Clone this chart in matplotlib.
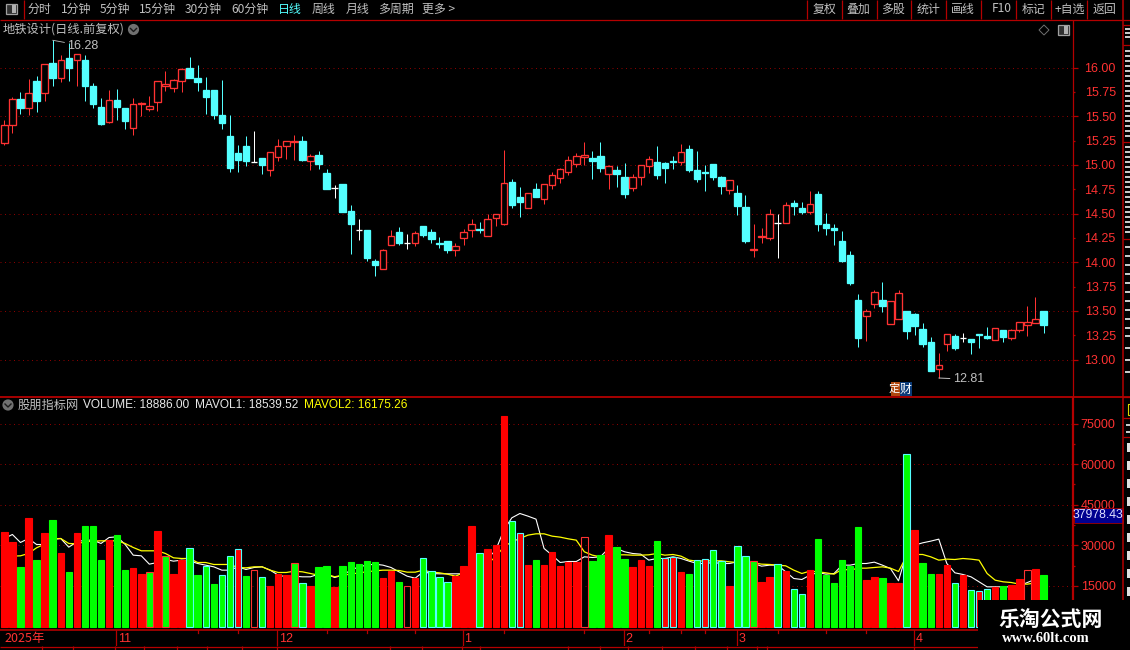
import matplotlib
matplotlib.use('Agg')
import matplotlib.pyplot as plt
from matplotlib.patches import Rectangle, Circle, Polygon
import numpy as np

CJK = ['Noto Sans CJK SC', 'DejaVu Sans']
LAT = ['Liberation Sans', 'DejaVu Sans']
plt.rcParams['font.family'] = CJK

# ---------- data ----------
open_ = [15.22,15.41,15.68,15.58,15.86,15.74,16.05,15.89,16.10,16.08,16.08,15.81,15.59,15.44,15.67,15.58,15.38,15.63,15.57,15.65,
         15.81,15.79,15.86,15.99,15.89,15.77,15.77,15.51,15.30,15.12,15.19,15.03,15.07,14.95,15.08,15.19,15.23,15.24,15.04,15.10,
         14.92,14.76,14.80,14.53,14.33,14.33,14.01,13.93,14.18,14.31,14.20,14.20,14.37,14.31,14.20,14.22,14.12,14.25,14.33,14.34,
         14.27,14.45,14.39,14.82,14.67,14.56,14.75,14.65,14.79,14.86,14.93,15.01,15.08,15.07,15.09,14.91,14.95,14.88,14.76,14.87,
         14.99,15.03,15.02,15.04,15.03,15.16,14.95,14.93,15.01,14.87,14.74,14.71,14.57,14.12,14.26,14.25,14.40,14.40,14.61,14.56,
         14.52,14.70,14.39,14.35,14.22,14.07,13.61,13.45,13.57,13.61,13.36,13.42,13.50,13.47,13.31,13.18,12.90,13.16,13.24,13.22,
         13.21,13.26,13.24,13.20,13.30,13.22,13.30,13.35,13.37,13.50]
high = [15.46,15.70,15.75,15.88,15.91,16.04,16.28,16.13,16.25,16.14,16.13,15.84,15.69,15.77,15.78,15.58,15.69,15.65,15.71,15.86,
        15.96,15.88,16.00,16.11,16.03,15.90,15.77,15.87,15.51,15.20,15.30,15.35,15.07,15.13,15.27,15.25,15.31,15.30,15.11,15.14,
        14.96,14.79,14.80,14.59,14.44,14.33,14.03,14.14,14.33,14.36,14.29,14.32,14.37,14.34,14.26,14.22,14.20,14.34,14.44,14.41,
        14.49,14.50,15.15,14.85,14.77,14.71,14.81,14.80,14.93,14.97,15.09,15.12,15.23,15.14,15.23,15.00,14.99,15.02,14.91,15.00,
        15.09,15.19,15.03,15.09,15.21,15.20,15.14,15.00,15.01,14.89,14.84,14.79,14.69,14.39,14.35,14.55,14.50,14.62,14.64,14.62,
        14.73,14.73,14.51,14.39,14.32,14.11,13.67,13.52,13.71,13.80,13.60,13.71,13.50,13.48,13.37,13.23,13.07,13.26,13.26,13.27,
        13.21,13.26,13.33,13.32,13.30,13.31,13.39,13.55,13.64,13.50]
low = [15.20,15.33,15.52,15.51,15.54,15.66,15.81,15.85,15.86,15.81,15.66,15.58,15.41,15.43,15.46,15.37,15.31,15.50,15.55,15.55,
       15.76,15.75,15.75,15.89,15.76,15.52,15.47,15.37,14.93,14.93,14.99,15.03,14.91,14.89,15.04,15.06,15.05,15.04,14.95,14.96,
       14.75,14.66,14.52,14.08,14.23,14.01,13.86,13.93,14.18,14.18,14.14,14.17,14.26,14.20,14.15,14.09,14.06,14.18,14.26,14.30,
       14.27,14.37,14.38,14.56,14.46,14.56,14.67,14.60,14.75,14.81,14.90,14.98,15.00,14.85,14.93,14.75,14.77,14.66,14.73,14.79,
       14.92,14.85,14.81,14.96,15.00,14.93,14.82,14.73,14.84,14.70,14.70,14.48,14.20,14.05,14.20,14.23,14.04,14.40,14.48,14.49,
       14.50,14.32,14.28,14.18,14.00,13.77,13.13,13.19,13.53,13.49,13.36,13.42,13.21,13.25,13.13,12.88,12.81,13.09,13.10,13.18,
       13.06,13.12,13.21,13.20,13.18,13.20,13.28,13.24,13.37,13.27]
close = [15.41,15.68,15.58,15.74,15.66,16.04,15.89,16.08,15.99,16.14,15.81,15.63,15.42,15.67,15.59,15.45,15.62,15.64,15.60,15.86,
         15.83,15.87,15.98,15.89,15.85,15.70,15.51,15.43,14.97,15.05,15.04,15.03,15.00,15.13,15.19,15.25,15.24,15.05,15.09,15.01,
         14.75,14.76,14.52,14.39,14.33,14.04,13.97,14.12,14.27,14.20,14.20,14.30,14.28,14.24,14.19,14.12,14.17,14.31,14.39,14.33,
         14.44,14.50,14.81,14.59,14.62,14.71,14.67,14.80,14.90,14.96,15.05,15.09,15.10,15.04,14.97,14.99,14.91,14.70,14.88,15.00,
         15.06,14.90,14.97,15.03,15.13,14.95,14.85,14.92,14.87,14.78,14.84,14.58,14.22,14.14,14.27,14.50,14.40,14.59,14.58,14.52,
         14.60,14.39,14.35,14.33,14.01,13.79,13.22,13.50,13.69,13.55,13.60,13.68,13.29,13.34,13.16,12.88,12.94,13.26,13.12,13.22,
         13.18,13.25,13.22,13.32,13.23,13.30,13.39,13.39,13.42,13.35]

volume = [34870,31170,21930,40040,24520,34500,39300,27100,20080,34500,37080,37080,24520,31910,33760,20820,21560,19340,20080,35240,
          26000,19340,24520,28950,18970,22300,15650,18970,26000,28580,18600,20700,18230,14900,19340,18970,23400,16020,14900,21930,
          22300,14540,22300,23780,23040,24150,23780,17860,20450,16390,15150,17860,25260,20450,18230,16390,18600,22300,37080,27100,
          28580,30060,77740,38930,34500,22670,24520,22670,27470,22300,23780,23780,33020,24150,26360,33760,29320,24890,21930,24520,
          22300,31540,25260,25630,20080,19340,24520,24890,28210,24150,14900,29690,26000,24150,16390,18230,23040,20450,13800,11950,
          20820,32280,18970,16020,24520,22300,36710,17120,18230,17860,16020,16020,63690,35600,23400,19340,19340,22670,16020,18970,
          13430,13060,13800,14540,14900,15280,17490,20820,21190,18886]
# r = red bar, g = green bar, o = hollow red bar (ten per row)
vol_colours = list('rrgrgrgrgr' 'gggrggrrgr' 'grrggggggr' 'gogrrrggrg'
                   'grgggggrrg' 'orggggrrrg' 'rrrgrrgrrr' 'rrOggrggrr'.replace('O', 'o') +
                   'rgrrrggrgg' 'rgggrrgrgg' 'rggggggrrg' 'rrgrggrrgr' 'grgrgrrorg')

cyan_edge_bars = [23,25,27,28,29,32,37,52,53,54,55,59,63,64,82,83,86,87,88,89,91,92,96,98,99,112,118,120,121,122]
red_edge_bars = [18,20,36,93]

mavol1 = [32520,34000,31050,32520,30310,30310,32160,32520,29320,31290,31910,31910,30680,32890,33140,30310,26360,26120,23040,23650,
          24760,24150,24520,24270,23280,22670,22050,20820,20820,22050,21070,21810,22050,20820,18970,18360,18600,18360,18360,19340,
          19340,18110,18970,20820,22050,22670,23040,22670,21810,20200,18600,17860,20200,19590,19470,19470,19470,19470,22050,23280,
          25130,28210,35600,40160,41760,40780,39670,28830,26360,23650,24020,24020,25750,25500,25750,28830,28830,27600,26980,26730,
          24520,25130,25130,25750,25130,24150,23280,23280,23650,23280,23280,23900,23900,23280,22300,22670,22670,20200,17740,17370,
          18970,19960,19340,19590,22670,22670,23280,23280,23780,22670,21440,16880,26980,30060,30920,31540,32280,23280,19840,19220,
          18360,16510,14660,14660,14660,14660,15030,16260,17490,18540]
mavol2 = [26120,26000,26120,26980,29080,30430,32400,32520,30680,30550,31290,31540,31660,31660,31660,30680,29200,27970,27970,27970,
          26980,25380,25130,25130,23650,23650,22920,22920,22920,21810,21680,22050,22050,20820,19960,19960,20450,20200,19590,18970,
          19340,18360,18970,19340,19840,20200,20570,20820,20820,20700,20080,20080,20820,20080,19840,19340,18600,19840,20820,22050,
          23280,25750,29440,31290,32520,33760,34250,34250,33390,33020,32400,31910,27600,26360,25750,26730,26490,26490,26360,26360,
          26490,26980,26360,26610,26000,24520,24150,24270,24270,24270,23900,23650,23780,23530,23040,22920,22670,22420,20820,19590,
          20450,20200,19840,19340,21190,20820,21560,21560,21810,22050,21560,20330,26000,26610,26610,25750,24520,24890,24760,25130,
          24890,24520,19590,17120,16510,16260,15650,15650,16140,16175]

price_major = [13.0,13.5,14.0,14.5,15.0,15.5,16.0]
price_minor = [13.25,13.75,14.25,14.75,15.25,15.75]
vol_major = [15000,30000,45000,60000,75000]
vol_minor = [22500,37500,52500,67500]

month_starts = [14,34,57,77,91,113]
month_labels = ['11','12','1','2','3','4']
week_marks = [24,29,40,45,51,62,72,80,84,87,96,102,107]

left_tools = ['分时','1分钟','5分钟','15分钟','30分钟','60分钟','日线','周线','月线','多周期','更多 >']
right_tools = ['复权','叠加','多股','统计','画线','F10','标记','+自选','返回']

# ---------- colours ----------
RED = '#ff3232'; CYAN = '#54ffff'; WHITE = '#ffffff'; FRAME = '#b40000'; GRID = '#8c0000'
TXT = '#c0c0c0'

W, H = 1130, 650
fig = plt.figure(figsize=(W/100, H/100), dpi=100, facecolor='black')

def axes_px(x0, y0, x1, y1, **kw):
    return fig.add_axes([x0/W, 1-y1/H, (x1-x0)/W, (y1-y0)/H], facecolor='black', **kw)

XL = (-0.538, 132.6)
idx = np.arange(len(open_))
op, hi, lo, cl = map(np.array, (open_, high, low, close))

# ---------- price panel ----------
ax = axes_px(0, 20, 1072.5, 396.5)
ax.set_xlim(*XL)
ax.set_ylim(12.62, 16.488)
for g in price_major:
    ax.axhline(g, color=GRID, lw=0.72, ls=(0, (1, 3.5)), zorder=1)
col = np.where(cl > op, RED, np.where(cl < op, CYAN, WHITE))
ax.vlines(idx, lo, hi, colors=list(col), lw=0.72, zorder=2)
ax.bar(idx, np.abs(cl-op), bottom=np.minimum(op, cl), width=0.8,
       facecolor=['black' if c > o else k for c, o, k in zip(cl, op, col)],
       edgecolor=list(col), linewidth=0.95, zorder=3)
ax.set_xticks([])
ax.yaxis.tick_right()
ax.set_yticks(price_major, [f'{v:.2f}' for v in price_major])
ax.set_yticks(price_minor, [f'{v:.2f}' for v in price_minor], minor=True)
ax.tick_params(axis='y', which='major', length=3.6, width=0.9, color=FRAME, pad=27.5, labelcolor=RED, labelsize=9)
ax.tick_params(axis='y', which='minor', length=1.6, width=0.9, color=FRAME, pad=29.5, labelcolor=RED, labelsize=9, labelright=True)
for t in ax.get_yticklabels(which='both'):
    t.set_ha('right'); t.set_fontfamily(LAT)
for s in ax.spines.values():
    s.set_visible(False)
imax, imin = int(np.argmax(hi)), int(np.argmin(lo))
ax.annotate(f'{hi[imax]:.2f}', xy=(imax, hi[imax]), xytext=(10.5, -4), textcoords='offset points',
            color=TXT, fontsize=9, family=LAT, va='center',
            arrowprops=dict(arrowstyle='-', color=TXT, lw=0.6, shrinkA=0, shrinkB=0))
ax.annotate(f'{lo[imin]:.2f}', xy=(imin, lo[imin]), xytext=(10, -1), textcoords='offset points',
            color=TXT, fontsize=9, family=LAT, va='center',
            arrowprops=dict(arrowstyle='-', color=TXT, lw=0.7, shrinkA=0, shrinkB=0))

# ---------- volume panel ----------
vx = axes_px(0, 397, 1072.5, 630)
vx.set_xlim(*XL)
vx.set_ylim(-1290, 84800)
for g in vol_major:
    vx.axhline(g, color=GRID, lw=0.72, ls=(0, (1, 3.5)), zorder=1)
vx.plot(idx, mavol1, color=WHITE, lw=0.8, zorder=2)
vx.plot(idx, mavol2, color='#ffff00', lw=0.9, zorder=2)
face, edge = [], []
for i, c in enumerate(vol_colours):
    fill = {'r': '#ff0000', 'g': '#00ff00', 'o': 'none'}[c]
    face.append(fill)
    if c == 'o' or i in red_edge_bars:
        edge.append(RED)
    elif i in cyan_edge_bars:
        edge.append(CYAN)
    else:
        edge.append(fill)
vx.bar(idx, volume, width=0.8, facecolor=face, edgecolor=edge, linewidth=0.8, zorder=3)
vx.set_xticks([])
vx.yaxis.tick_right()
vx.set_yticks(vol_major, [str(v) for v in vol_major])
vx.set_yticks(vol_minor, minor=True)
vx.tick_params(axis='y', which='major', length=3.6, width=0.9, color=FRAME, pad=27.5, labelcolor=RED, labelsize=9)
vx.tick_params(axis='y', which='minor', length=1.6, width=0.9, color=FRAME)
for t in vx.get_yticklabels():
    t.set_ha('right'); t.set_fontfamily(LAT)
for s in vx.spines.values():
    s.set_visible(False)

# ---------- date strip ----------
dx = axes_px(0, 630, 1072.5, 646)
dx.set_xlim(*XL); dx.set_ylim(1, 0); dx.axis('off')
for m, lab in zip(month_starts, month_labels):
    dx.plot([m-0.1, m-0.1], [0, 1], color=FRAME, lw=0.9)
    dx.text(m+0.1, 0.55, lab, color=RED, fontsize=9, family=LAT, va='center', ha='left')
dx.text(0.0, 0.55, '2025年', color=RED, fontsize=9, va='center', ha='left')
for m in week_marks:
    dx.plot([m, m], [0, 0.2], color=FRAME, lw=0.9)

# ---------- chrome overlay ----------
ov = fig.add_axes([0, 0, 1, 1], zorder=10)
ov.set_xlim(0, W); ov.set_ylim(H, 0); ov.axis('off'); ov.patch.set_alpha(0)
def hl(y, x0=0, x1=W, lw=0.9):
    ov.plot([x0, x1], [y, y], color=FRAME, lw=lw, solid_capstyle='butt')
def vl(x, y0, y1, lw=0.9):
    ov.plot([x, x], [y0, y1], color=FRAME, lw=lw, solid_capstyle='butt')
hl(19.5); hl(396.8, lw=1.3); hl(630, 0, 1123, lw=1.2); hl(646.5, 0, 978)
vl(1072.8, 20, 397); vl(1072.8, 397, 630, lw=1.6)
vl(1123.3, 0, 630, lw=1.1); vl(23.5, 0, 19)
for y in [25, 45, 142, 239, 397, 418, 437]:
    hl(y, 1123, 1130)
for x in [42, 73, 115, 144, 177, 207, 242, 277, 390, 422, 462, 480, 568, 600, 628, 662, 695, 727, 757, 767, 914]:
    vl(x, 646, 650)

left_x = [28, 61, 100, 139, 185, 231, 278, 312, 346, 378, 422]
for x, s in zip(left_x, left_tools):
    ov.text(x, 9, s, color=CYAN if s == '日线' else TXT, fontsize=8.6, va='center', ha='left')
right_x = [824.5, 858, 893, 928.5, 963, 1002, 1033.5, 1070, 1104.5]
for x, s in zip(right_x, right_tools):
    ov.text(x, 9, s, color=TXT, fontsize=8.6, va='center', ha='center')
for x in [807, 841.5, 876.5, 911, 946, 981, 1016, 1051, 1087]:
    vl(x, 0, 19)
# top-left layout icon
ov.add_patch(Rectangle((5.5, 3.5), 11, 10, fc='#303030', ec='#a0a0a0', lw=0.9))
ov.add_patch(Rectangle((12, 4.5), 4, 8, fc='#b0b0b0', ec='none'))

ov.text(3, 29.5, '地铁设计(日线.前复权)', color=TXT, fontsize=8.8, va='center', ha='left')
def chevron(cx, cy):
    ov.add_patch(Circle((cx, cy), 5.6, fc='#707070', ec='none'))
    ov.plot([cx-3, cx, cx+3], [cy-1, cy+2, cy-1], color='#1a1a1a', lw=1.0)
chevron(133.5, 29.5)
ov.add_patch(Polygon([(1044, 25), (1049, 30), (1044, 35), (1039, 30)], closed=True, fc='none', ec='#707070', lw=0.7))
ov.add_patch(Rectangle((1058, 25), 10.5, 9.5, fc='#303030', ec='#a0a0a0', lw=0.9))
ov.add_patch(Rectangle((1064, 26), 3.5, 7.5, fc='#b0b0b0', ec='none'))

# financial badges
ov.add_patch(Rectangle((891, 382), 13, 14, fc='#b04810', ec='none'))
ov.add_patch(Rectangle((899.5, 382), 12.5, 14, fc='#0a3a78', ec='none'))
ov.text(894, 389, '定', color='white', fontsize=8, va='center', ha='center')
ov.text(905.5, 389, '财', color='white', fontsize=8.6, va='center', ha='center')

# volume header
chevron(8, 405)
ov.text(18, 405, '股朋指标网', color=TXT, fontsize=8.8, va='center', ha='left')
ov.text(83, 405, f'VOLUME: {volume[-1]:.2f}', color='#e8e8e8', fontsize=8.55, family=LAT, va='center', ha='left')
ov.text(195, 405, 'MAVOL1: 18539.52', color='#e8e8e8', fontsize=8.55, family=LAT, va='center', ha='left')
ov.text(304, 405, 'MAVOL2: 16175.26', color='#ffff00', fontsize=8.55, family=LAT, va='center', ha='left')

# cursor value box
ov.add_patch(Rectangle((1073.5, 507.5), 49, 15.5, fc='#000090', ec='#a00000', lw=0.6))
ov.text(1098, 515.3, '37978.43', color='#e0e0ff', fontsize=8.8, family=LAT, va='center', ha='center', clip_on=True)

# unreadable fragments of the cropped list on the right edge
for y in list(range(28, 40, 4)) + list(range(50, 140, 5)) + list(range(146, 236, 5)) + list(range(246, 330, 9)) + list(range(335, 380, 12)):
    ov.add_patch(Rectangle((1125, y), 5, 1.6, fc='#c8c8c8', ec='none'))
ov.add_patch(Rectangle((1128, 404), 4, 11, fc='none', ec='#d8d800', lw=0.8))
ov.add_patch(Rectangle((1126, 424), 4, 1.5, fc='#c8c8c8', ec='none'))
ov.add_patch(Rectangle((1126, 431), 4, 1.5, fc='#c8c8c8', ec='none'))
for y in range(443, 598, 18):
    ov.add_patch(Rectangle((1127, y), 3, 9, fc='#e0e0e0', ec='none'))

# watermark
ov.add_patch(Rectangle((978, 600), 152, 50, fc='black', ec='none', zorder=5))
ov.text(1051, 619, '乐淘公式网', color='white', fontsize=15, fontweight='bold', va='center', ha='center', zorder=6)
ov.text(1046, 639, 'www.60lt.com', color='white', fontsize=10.5, family='Liberation Serif', fontweight='bold',
        va='center', ha='center', zorder=6)

fig.savefig('out.png', dpi=100, facecolor='black')
